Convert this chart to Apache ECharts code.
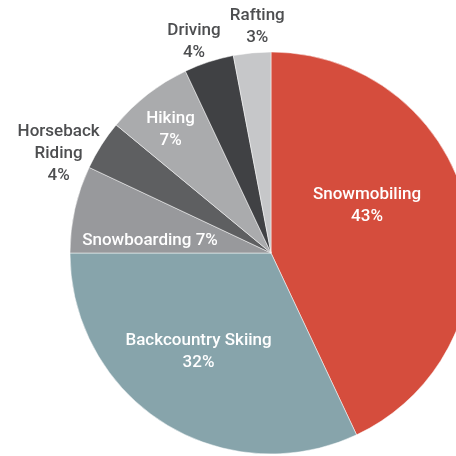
<!DOCTYPE html>
<html><head><meta charset="utf-8">
<script src="https://cdn.jsdelivr.net/npm/echarts@6/dist/echarts.min.js"></script>
<style>html,body{margin:0;padding:0;background:#fff}#c{width:456px;height:456px}</style>
</head><body><div id="c"></div>
<script>
var categories = ['Snowmobiling','Backcountry Skiing','Snowboarding','Horseback\nRiding','Hiking','Driving','Rafting'];
var values = [43,32,7,4,7,4,3];
var colors = ['#d54d3d','#87a4ab','#98999c','#5e5f61','#aaabad','#404144','#c6c7c9'];
var labelFormats = ['{b}\n{c}%','{b}\n{c}%','{b} {c}%','{b}\n{c}%','{b}\n{c}%','{b}\n{c}%','{b}\n{c}%'];
var labelColors = ['#fff','#fff','#fff','#4d4e50','#fff','#4d4e50','#4d4e50'];
var labelShift = [[-5,-25],[-17,11],[-20,10],[-125,-44],[-37,-41],[-45,-113],[-4,-123]];

var chart = echarts.init(document.getElementById('c'), null, {renderer:'canvas'});
chart.setOption({
  animation:false,
  series:[{
    type:'pie',
    center:[271,253],
    radius:[0,201],
    startAngle:90,
    clockwise:true,
    itemStyle:{borderColor:'#fff',borderWidth:0.5},
    label:{position:'inside',fontFamily:'Roboto',fontSize:17,fontWeight:500,lineHeight:22,align:'center'},
    labelLine:{show:false},
    emphasis:{disabled:true},
    labelLayout:function(p){var s=labelShift[p.dataIndex];return {dx:s[0],dy:s[1]};},
    data:categories.map(function(n,i){return {name:n,value:values[i],itemStyle:{color:colors[i]},label:{formatter:labelFormats[i],color:labelColors[i]}};})
  }]
});
</script></body></html>
